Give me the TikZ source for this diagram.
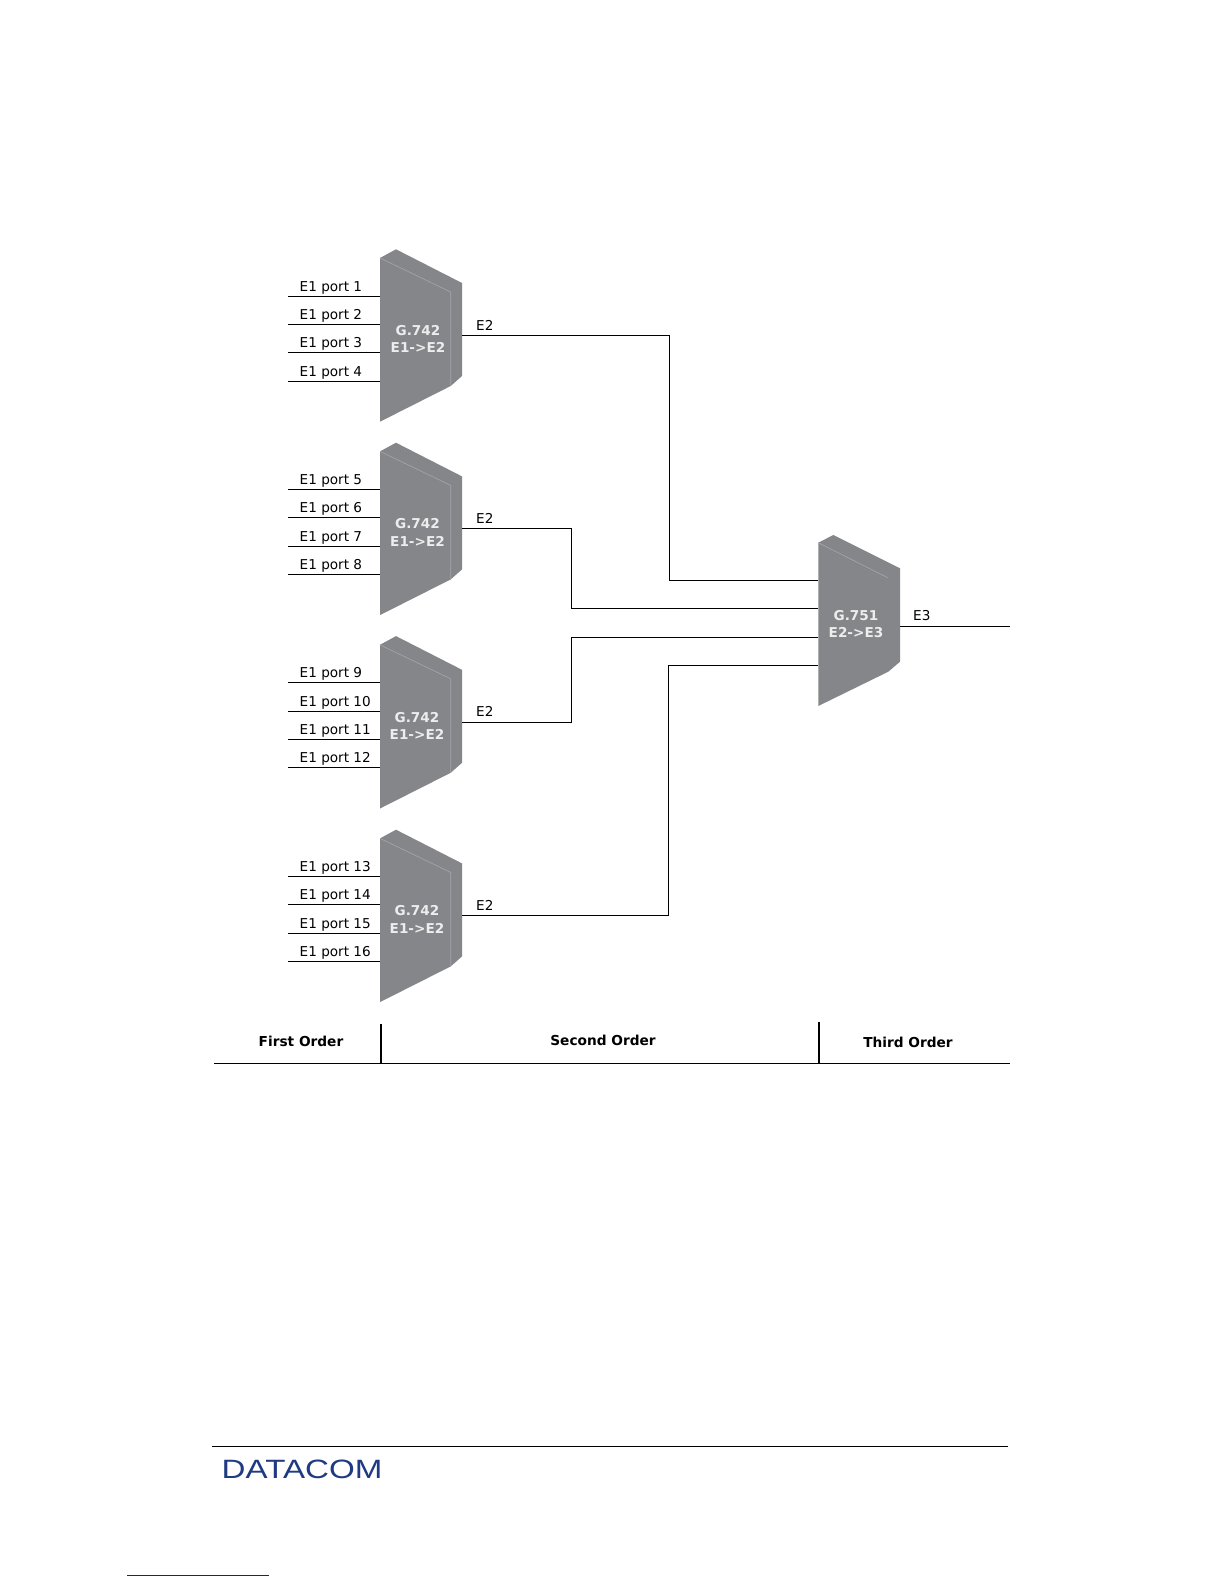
\documentclass[tikz,border=0pt]{standalone}
\usepackage{fontspec}
\setmainfont{DejaVu Sans}
\newfontfamily\logofont{Liberation Sans}
\definecolor{muxgray}{HTML}{85868A}
\definecolor{muxline}{HTML}{A5A6A8}
\definecolor{logoblue}{HTML}{1F3A82}
\definecolor{linkblue}{HTML}{1A1A9A}
\tikzset{
  lbl/.style={anchor=base west,inner sep=0pt,font=\fontsize{13.6}{16}\selectfont,text=black},
  muxlbl/.style={anchor=center,align=center,inner sep=0pt,text=white!93!black,font=\fontsize{13.6}{17.4}\selectfont\bfseries},
  orderlbl/.style={anchor=base,inner sep=0pt,font=\fontsize{13.7}{16}\selectfont\bfseries,text=black},
  wire/.style={draw=black,line width=0.9pt},
  rule/.style={draw=black,line width=1pt},
  sep/.style={draw=black,line width=1.5pt},
  muxbody/.style={fill=muxgray,draw=none},
  muxedge/.style={draw=muxline,line width=0.6pt},
}
\begin{document}
\begin{tikzpicture}[x=1pt,y=-1pt]
\useasboundingbox[fill=white] (0,0) rectangle (1224,1584);
% first-order multiplexers
\foreach \i/\dy/\tx/\pa/\pb/\pc/\pd in {0/0/418/1/2/3/4,1/193.4/417.5/5/6/7/8,2/386.8/417/9/10/11/12,3/580.4/417/13/14/15/16}{
  \begin{scope}[yshift=-\dy pt]
    \fill[muxbody] (380,258) -- (396,249.3) -- (462,283) -- (462,376) -- (450.7,386) -- (380,421.7) -- cycle;
    \draw[muxedge] (380,258) -- (450.7,292) -- (450.7,386);
    \node[muxlbl] (mux\i) at (\tx,339.2) {G.742\\E1->E2};
    \coordinate (out\i) at (462,335.3);
    \foreach \n/\y/\p in {1/296/\pa,2/324.3/\pb,3/352.7/\pc,4/381/\pd}{
      \coordinate (in\i\n) at (380,\y);
      \coordinate (free\i\n) at (288,\y);
      \draw[wire] (free\i\n) -- (in\i\n);
      \node[lbl] (plbl\i\n) at (299.5,\y-5) {E1 port \p};
    }
    \node[lbl] (e2lbl\i) at (476,330) {E2};
  \end{scope}
}
% third-order multiplexer
\fill[muxbody] (818.3,542.7) -- (833.3,535) -- (900,568.3) -- (900,661.7) -- (888.3,671.7) -- (818.3,706) -- cycle;
\draw[muxedge] (818.3,542.7) -- (888.3,578);
\node[muxlbl] (mux751) at (856,623.8) {G.751\\E2->E3};
\coordinate (c1) at (818.3,580.3);
\coordinate (c2) at (818.3,608.7);
\coordinate (c3) at (818.3,637);
\coordinate (c4) at (818.3,665.3);
\coordinate (e3in) at (900,626.5);
\coordinate (e3out) at (1010,626.5);
\draw[wire] (e3in) -- (e3out);
\node[lbl] (e3lbl) at (913,620.5) {E3};
% connectors
\draw[wire] (out0) -| (669,580.3) -- (c1);
\draw[wire] (out1) -| (571.6,608.7) -- (c2);
\draw[wire] (out2) -| (571.6,637) -- (c3);
\draw[wire] (out3) -| (668.6,665.3) -- (c4);
% order bar
\coordinate (barL) at (214,1063);
\coordinate (barR) at (1010,1063);
\coordinate (s1t) at (381,1024);
\coordinate (s1b) at (381,1063);
\coordinate (s2t) at (819,1022);
\coordinate (s2b) at (819,1063);
\draw[rule] (barL) -- (barR);
\draw[sep] (s1t) -- (s1b);
\draw[sep] (s2t) -- (s2b);
\node[orderlbl] (first) at (301,1046) {First Order};
\node[orderlbl] (second) at (603,1045) {Second Order};
\node[orderlbl] (third) at (908,1047) {Third Order};
% footer
\coordinate (ftL) at (212,1446);
\coordinate (ftR) at (1008,1446);
\draw[rule] (ftL) -- (ftR);
\node[anchor=base west,inner sep=0pt,text=logoblue] (logo) at (221.5,1478) {\scalebox{1.25}[1]{\logofont\fontsize{26.5}{30}\selectfont DATACOM}};
\coordinate (lkL) at (127,1575);
\coordinate (lkR) at (269,1575);
\draw[draw=linkblue,line width=1pt] (lkL) -- (lkR);
\end{tikzpicture}
\end{document}
